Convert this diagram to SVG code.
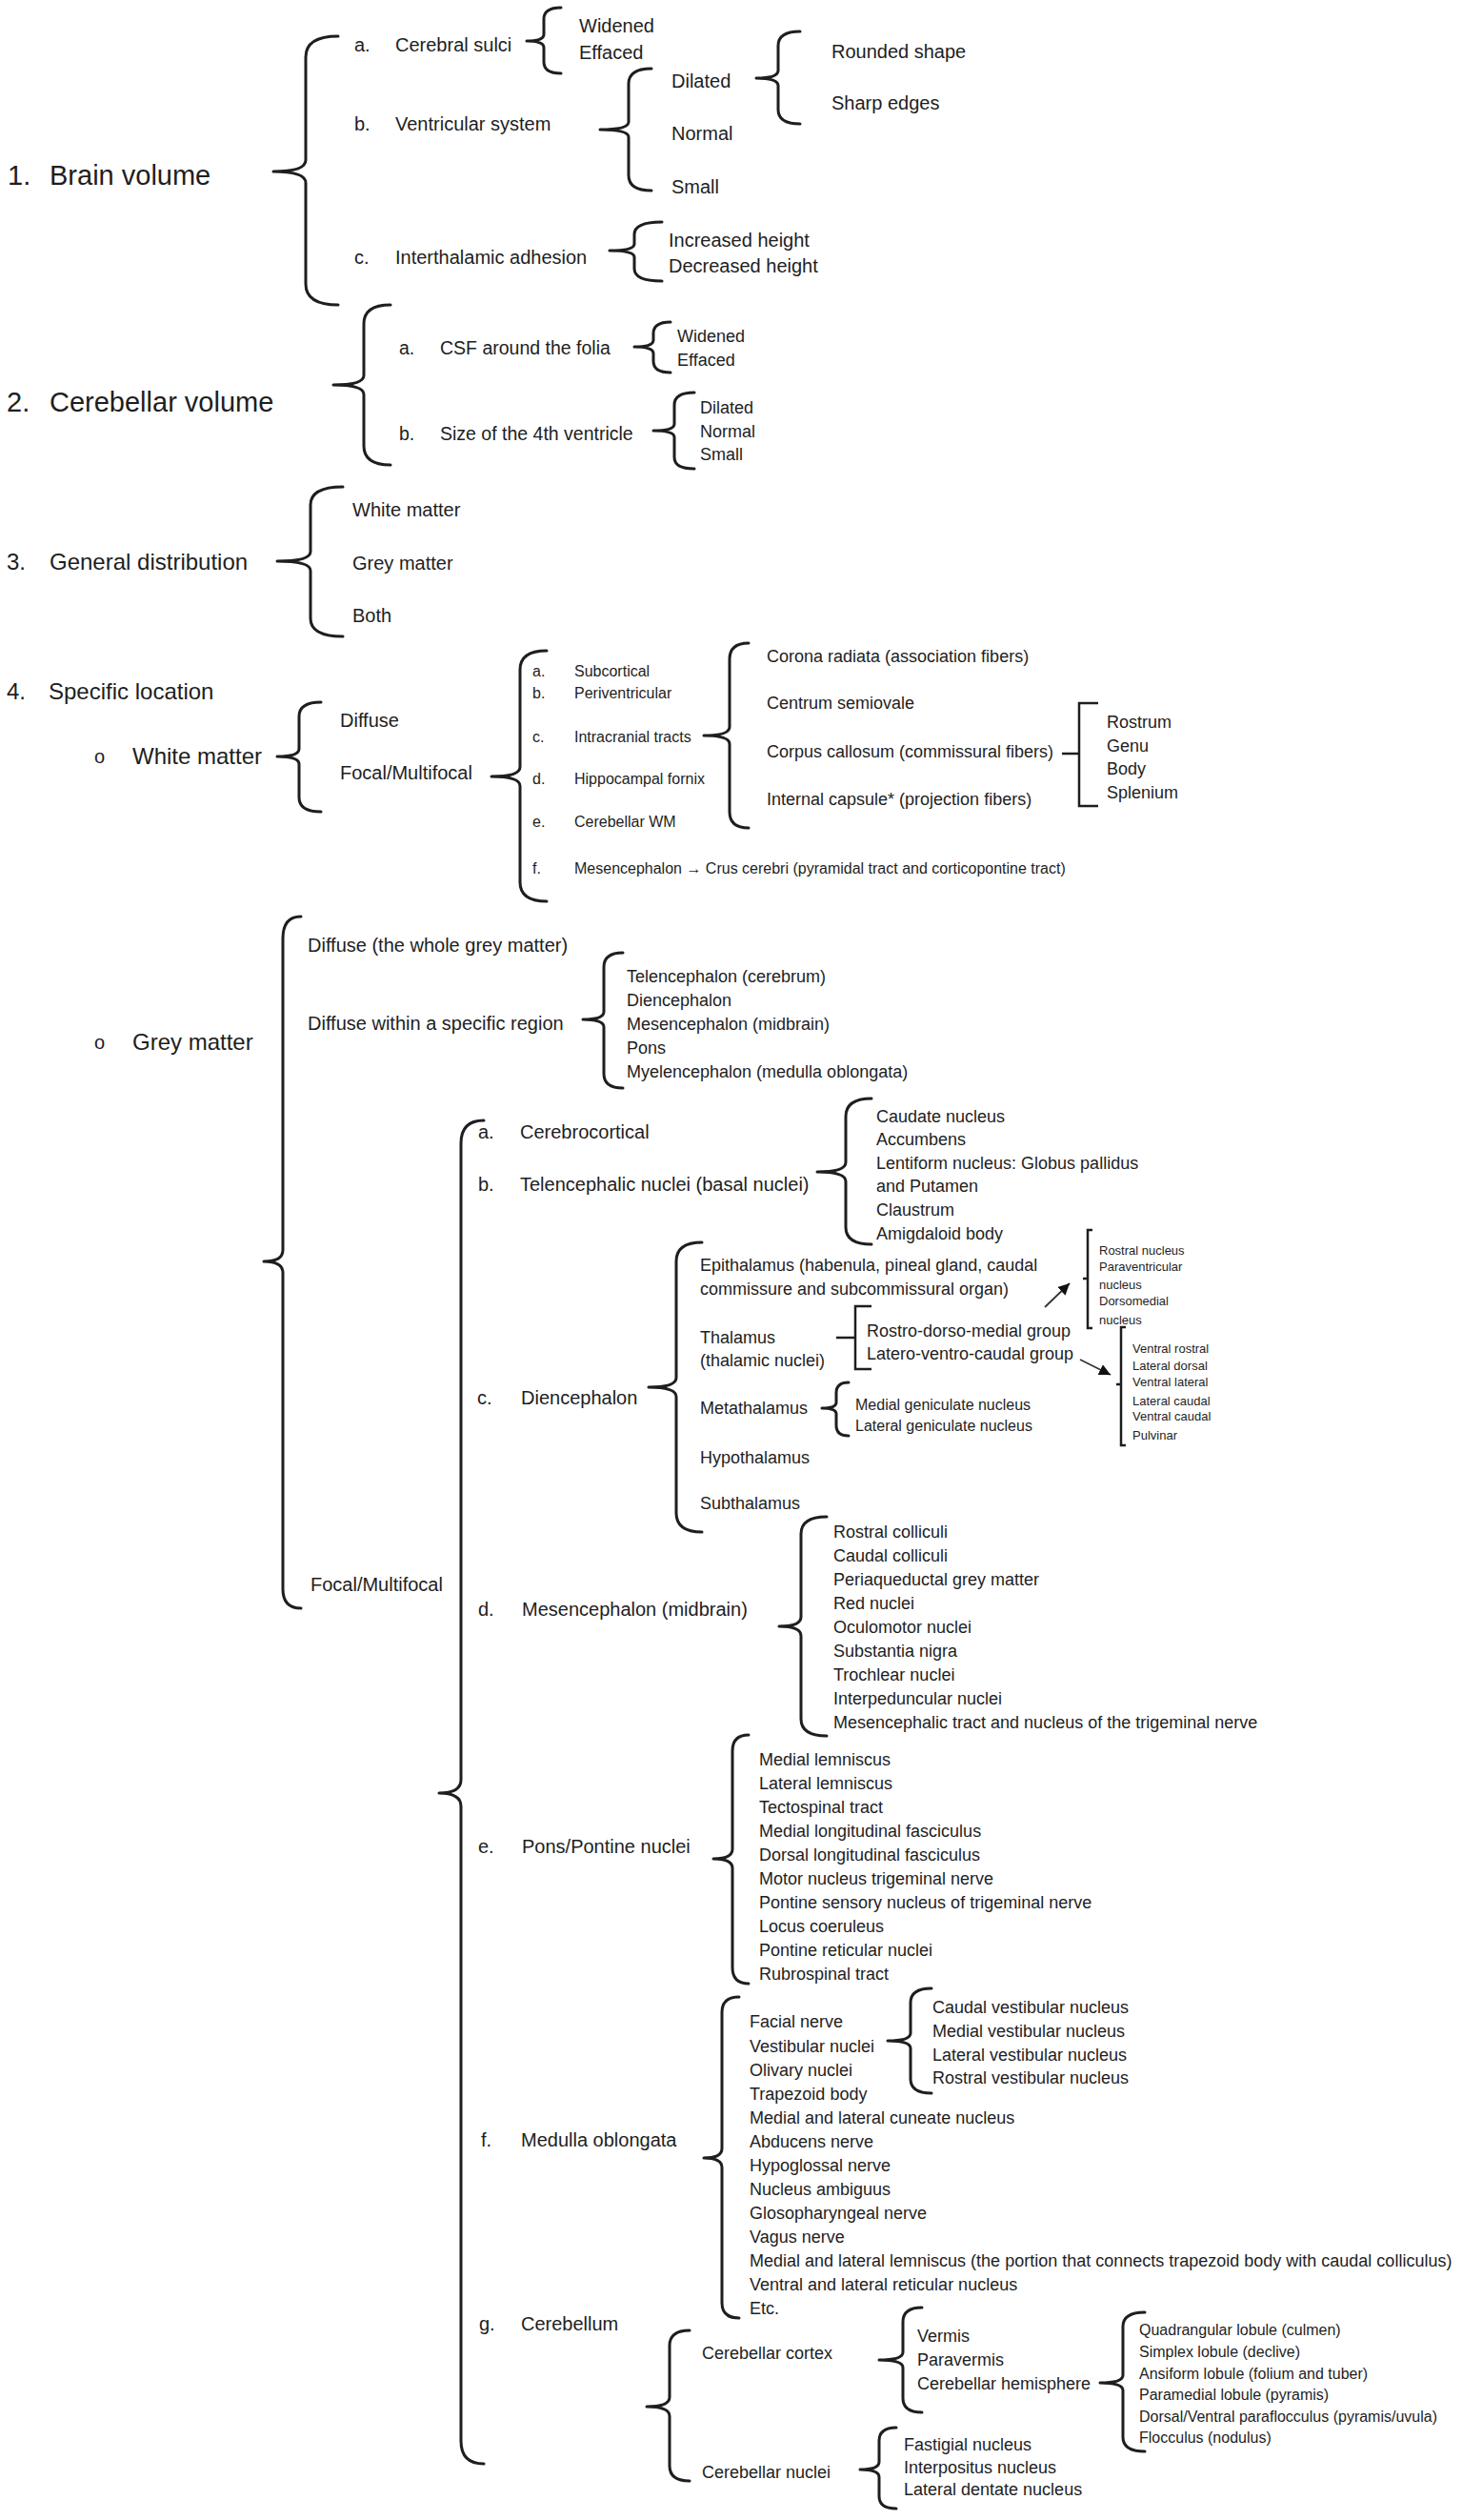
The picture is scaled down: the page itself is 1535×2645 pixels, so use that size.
<svg xmlns="http://www.w3.org/2000/svg" width="1535" height="2645" viewBox="0 0 1535 2645">
<style>
text{font-family:"Liberation Sans",Arial,sans-serif;fill:#1e1e1e;dominant-baseline:central}
.h29{font-size:29px}.h24{font-size:24px}.f20{font-size:20px}.f195{font-size:19.5px}.f18{font-size:18px}.f16{font-size:16px}.f13{font-size:13px}
.br{fill:none;stroke:#1e1e1e;stroke-width:3;stroke-linecap:round;stroke-linejoin:round}
.sq{fill:none;stroke:#1e1e1e;stroke-width:2.5;stroke-linecap:butt}
.ar{fill:none;stroke:#333;stroke-width:1.8}
</style>
<defs>
<marker id="ah" markerWidth="12" markerHeight="12" refX="10" refY="5" orient="auto" markerUnits="userSpaceOnUse" viewBox="0 0 10 10"><path d="M0,0 L10,5 L0,10 z" fill="#111"/></marker>
</defs>
<rect width="1535" height="2645" fill="#fff"/>

<g id="connectors">
<!-- Section 1 -->
<path class="br" d="M355,38 Q321,38 321,60 L321,168 Q321,180 287,180 Q321,180 321,192 L321,298 Q321,320 355,320"/>
<path class="br" d="M589,8 Q571,8 571,20 L571,36 Q571,43 553,43 Q571,43 571,50 L571,65 Q571,77 589,77"/>
<path class="br" d="M684,72 Q660,72 660,88 L660,128 Q660,136 630,136 Q660,136 660,144 L660,184 Q660,200 684,200"/>
<path class="br" d="M840,33 Q817,33 817,48 L817,74 Q817,82 794,82 Q817,82 817,90 L817,115 Q817,130 840,130"/>
<path class="br" d="M695,233 Q666,233 666,246 L666,256 Q666,263 640,263 Q666,263 666,270 L666,282 Q666,295 695,295"/>
<!-- Section 2 -->
<path class="br" d="M410,320 Q382,320 382,340 L382,394 Q382,404 350,404 Q382,404 382,414 L382,468 Q382,488 410,488"/>
<path class="br" d="M704,338 Q686,338 686,350 L686,357 Q686,364 666,364 Q686,364 686,371 L686,379 Q686,391 704,391"/>
<path class="br" d="M729,412 Q708,412 708,425 L708,445 Q708,452 686,452 Q708,452 708,459 L708,480 Q708,492 729,492"/>
<!-- Section 3 -->
<path class="br" d="M360,511 Q326,511 326,530 L326,579 Q326,589 291,589 Q326,589 326,599 L326,649 Q326,668 360,668"/>
<!-- Section 4 white matter -->
<path class="br" d="M337,737 Q314,737 314,752 L314,786 Q314,794 291,794 Q314,794 314,802 L314,837 Q314,852 337,852"/>
<path class="br" d="M574,683 Q546,683 546,703 L546,805 Q546,815 516,815 Q546,815 546,825 L546,926 Q546,946 574,946"/>
<path class="br" d="M786,675 Q766,675 766,692 L766,763 Q766,772 739,772 Q766,772 766,781 L766,852 Q766,869 786,869"/>
<path class="sq" d="M1153,738 L1133,738 L1133,846 L1153,846 M1115,791 L1133,791"/>
<!-- Grey matter -->
<path class="br" d="M316,962 Q297,962 297,985 L297,1312 Q297,1324 277,1324 Q297,1324 297,1336 L297,1668 Q297,1688 316,1688"/>
<path class="br" d="M654,1000 Q634,1000 634,1015 L634,1062 Q634,1070 612,1070 Q634,1070 634,1078 L634,1127 Q634,1142 654,1142"/>
<path class="br" d="M508,1176 Q484,1176 484,1200 L484,1868 Q484,1882 461,1882 Q484,1882 484,1896 L484,2562 Q484,2586 508,2586"/>
<path class="br" d="M915,1153 Q888,1153 888,1172 L888,1220 Q888,1230 858,1230 Q888,1230 888,1240 L888,1288 Q888,1306 915,1306"/>
<path class="br" d="M737,1304 Q710,1304 710,1324 L710,1446 Q710,1456 681,1456 Q710,1456 710,1466 L710,1588 Q710,1608 737,1608"/>
<path class="sq" d="M915,1371 L898,1371 L898,1437 L915,1437 M878,1404 L898,1404"/>
<path class="sq" d="M1147,1291 L1142,1291 L1142,1394 L1147,1394 M1137,1342 L1142,1342"/>
<path class="sq" d="M1182,1393 L1177,1393 L1177,1517 L1182,1517 M1172,1453 L1177,1453"/>
<path class="br" d="M891,1451 Q878,1451 878,1462 L878,1472 Q878,1478 863,1478 Q878,1478 878,1484 L878,1496 Q878,1507 891,1507"/>
<path class="ar" d="M1097,1372 L1123,1347" marker-end="url(#ah)"/>
<path class="ar" d="M1134,1427 L1166,1443" marker-end="url(#ah)"/>
<path class="br" d="M868,1592 Q841,1592 841,1610 L841,1697 Q841,1707 818,1707 Q841,1707 841,1717 L841,1804 Q841,1822 868,1822"/>
<path class="br" d="M786,1821 Q769,1821 769,1838 L769,1941 Q769,1951 749,1951 Q769,1951 769,1961 L769,2065 Q769,2082 786,2082"/>
<path class="br" d="M776,2096 Q758,2096 758,2112 L758,2255 Q758,2265 739,2265 Q758,2265 758,2275 L758,2417 Q758,2433 776,2433"/>
<path class="br" d="M978,2087 Q956,2087 956,2102 L956,2134 Q956,2142 932,2142 Q956,2142 956,2150 L956,2182 Q956,2197 978,2197"/>
<path class="br" d="M724,2446 Q703,2446 703,2462 L703,2516 Q703,2526 679,2526 Q703,2526 703,2536 L703,2588 Q703,2604 724,2604"/>
<path class="br" d="M968,2422 Q948,2422 948,2437 L948,2469 Q948,2477 923,2477 Q948,2477 948,2485 L948,2517 Q948,2532 968,2532"/>
<path class="br" d="M1202,2427 Q1179,2427 1179,2442 L1179,2493 Q1179,2501 1155,2501 Q1179,2501 1179,2509 L1179,2558 Q1179,2573 1202,2573"/>
<path class="br" d="M941,2548 Q923,2548 923,2562 L923,2584 Q923,2592 903,2592 Q923,2592 923,2600 L923,2620 Q923,2633 941,2633"/>
</g>

<g id="n-brain-volume"><text class="h29" x="8" y="184">1.</text><text class="h29" x="52" y="184">Brain volume</text></g>
<g id="n-cerebral-sulci"><text class="f20" x="372" y="47">a.</text><text class="f20" x="415" y="47">Cerebral sulci</text></g>
<g id="n-sulci-values"><text class="f20" x="608" y="27">Widened</text><text class="f20" x="608" y="55">Effaced</text></g>
<g id="n-ventricular"><text class="f20" x="372" y="130">b.</text><text class="f20" x="415" y="130">Ventricular system</text></g>
<g id="n-dilated"><text class="f20" x="705" y="85">Dilated</text></g>
<g id="n-normal"><text class="f20" x="705" y="140">Normal</text></g>
<g id="n-small"><text class="f20" x="705" y="196">Small</text></g>
<g id="n-rounded"><text class="f20" x="873" y="54">Rounded shape</text></g>
<g id="n-sharp"><text class="f20" x="873" y="108">Sharp edges</text></g>
<g id="n-interthalamic"><text class="f20" x="372" y="270">c.</text><text class="f20" x="415" y="270">Interthalamic adhesion</text></g>
<g id="n-height"><text class="f20" x="702" y="252">Increased height</text><text class="f20" x="702" y="279">Decreased height</text></g>

<g id="n-cerebellar-volume"><text class="h29" x="7" y="422">2.</text><text class="h29" x="52" y="422">Cerebellar volume</text></g>
<g id="n-csf"><text class="f195" x="419" y="365">a.</text><text class="f195" x="462" y="365">CSF around the folia</text></g>
<g id="n-csf-values"><text class="f18" x="711" y="353">Widened</text><text class="f18" x="711" y="378">Effaced</text></g>
<g id="n-4th"><text class="f195" x="419" y="455">b.</text><text class="f195" x="462" y="455">Size of the 4th ventricle</text></g>
<g id="n-4th-values"><text class="f18" x="735" y="428">Dilated</text><text class="f18" x="735" y="453">Normal</text><text class="f18" x="735" y="477">Small</text></g>

<g id="n-general"><text class="h24" x="7" y="589">3.</text><text class="h24" x="52" y="589">General distribution</text></g>
<g id="n-gd-values"><text class="f20" x="370" y="535">White matter</text><text class="f20" x="370" y="591">Grey matter</text><text class="f20" x="370" y="646">Both</text></g>

<g id="n-specific"><text class="h24" x="7" y="725">4.</text><text class="h24" x="51" y="725">Specific location</text></g>
<g id="n-white-matter"><text class="f20" x="99" y="794">o</text><text class="h24" x="139" y="793">White matter</text></g>
<g id="n-wm-diffuse"><text class="f20" x="357" y="756">Diffuse</text></g>
<g id="n-wm-focal"><text class="f20" x="357" y="811">Focal/Multifocal</text></g>
<g id="n-wm-locations">
<text class="f16" x="559" y="704">a.</text><text class="f16" x="603" y="704">Subcortical</text>
<text class="f16" x="559" y="727">b.</text><text class="f16" x="603" y="727">Periventricular</text>
<text class="f16" x="559" y="773">c.</text><text class="f16" x="603" y="773">Intracranial tracts</text>
<text class="f16" x="559" y="817">d.</text><text class="f16" x="603" y="817">Hippocampal fornix</text>
<text class="f16" x="559" y="862">e.</text><text class="f16" x="603" y="862">Cerebellar WM</text>
<text class="f16" x="559" y="911">f.</text><text class="f16" x="603" y="911">Mesencephalon → Crus cerebri (pyramidal tract and corticopontine tract)</text>
</g>
<g id="n-tracts">
<text class="f18" x="805" y="689">Corona radiata (association fibers)</text>
<text class="f18" x="805" y="738">Centrum semiovale</text>
<text class="f18" x="805" y="789">Corpus callosum (commissural fibers)</text>
<text class="f18" x="805" y="839">Internal capsule* (projection fibers)</text>
</g>
<g id="n-cc-parts">
<text class="f18" x="1162" y="758">Rostrum</text><text class="f18" x="1162" y="783">Genu</text><text class="f18" x="1162" y="807">Body</text><text class="f18" x="1162" y="832">Splenium</text>
</g>

<g id="n-grey-matter"><text class="f20" x="99" y="1094">o</text><text class="h24" x="139" y="1093">Grey matter</text></g>
<g id="n-gm-diffuse"><text class="f20" x="323" y="992">Diffuse (the whole grey matter)</text></g>
<g id="n-gm-diffuse-region"><text class="f20" x="323" y="1074">Diffuse within a specific region</text></g>
<g id="n-regions">
<text class="f18" x="658" y="1025">Telencephalon (cerebrum)</text><text class="f18" x="658" y="1050">Diencephalon</text><text class="f18" x="658" y="1075">Mesencephalon (midbrain)</text><text class="f18" x="658" y="1100">Pons</text><text class="f18" x="658" y="1125">Myelencephalon (medulla oblongata)</text>
</g>
<g id="n-gm-focal"><text class="f20" x="326" y="1663">Focal/Multifocal</text></g>
<g id="n-cerebrocortical"><text class="f20" x="502" y="1188">a.</text><text class="f20" x="546" y="1188">Cerebrocortical</text></g>
<g id="n-telencephalic"><text class="f20" x="502" y="1243">b.</text><text class="f20" x="546" y="1243">Telencephalic nuclei (basal nuclei)</text></g>
<g id="n-basal">
<text class="f18" x="920" y="1172">Caudate nucleus</text><text class="f18" x="920" y="1196">Accumbens</text><text class="f18" x="920" y="1221">Lentiform nucleus: Globus pallidus</text><text class="f18" x="920" y="1245">and Putamen</text><text class="f18" x="920" y="1270">Claustrum</text><text class="f18" x="920" y="1295">Amigdaloid body</text>
</g>
<g id="n-diencephalon"><text class="f20" x="501" y="1467">c.</text><text class="f20" x="547" y="1467">Diencephalon</text></g>
<g id="n-epithalamus"><text class="f18" x="735" y="1328">Epithalamus (habenula, pineal gland, caudal</text><text class="f18" x="735" y="1353">commissure and subcommissural organ)</text></g>
<g id="n-thalamus"><text class="f18" x="735" y="1404">Thalamus</text><text class="f18" x="735" y="1428">(thalamic nuclei)</text></g>
<g id="n-thal-groups"><text class="f18" x="910" y="1397">Rostro-dorso-medial group</text><text class="f18" x="910" y="1421">Latero-ventro-caudal group</text></g>
<g id="n-rdm-nuclei">
<text class="f13" x="1154" y="1312">Rostral nucleus</text><text class="f13" x="1154" y="1329">Paraventricular</text><text class="f13" x="1154" y="1348">nucleus</text><text class="f13" x="1154" y="1365">Dorsomedial</text><text class="f13" x="1154" y="1385">nucleus</text>
</g>
<g id="n-lvc-nuclei">
<text class="f13" x="1189" y="1415">Ventral rostral</text><text class="f13" x="1189" y="1433">Lateral dorsal</text><text class="f13" x="1189" y="1450">Ventral lateral</text><text class="f13" x="1189" y="1470">Lateral caudal</text><text class="f13" x="1189" y="1486">Ventral caudal</text><text class="f13" x="1189" y="1506">Pulvinar</text>
</g>
<g id="n-metathalamus"><text class="f18" x="735" y="1478">Metathalamus</text></g>
<g id="n-geniculate"><text class="f16" x="898" y="1474">Medial geniculate nucleus</text><text class="f16" x="898" y="1496">Lateral geniculate nucleus</text></g>
<g id="n-hypothalamus"><text class="f18" x="735" y="1530">Hypothalamus</text></g>
<g id="n-subthalamus"><text class="f18" x="735" y="1578">Subthalamus</text></g>
<g id="n-mesencephalon"><text class="f20" x="502" y="1689">d.</text><text class="f20" x="548" y="1689">Mesencephalon (midbrain)</text></g>
<g id="n-mes-items">
<text class="f18" x="875" y="1608">Rostral colliculi</text><text class="f18" x="875" y="1633">Caudal colliculi</text><text class="f18" x="875" y="1658">Periaqueductal grey matter</text><text class="f18" x="875" y="1683">Red nuclei</text><text class="f18" x="875" y="1708">Oculomotor nuclei</text><text class="f18" x="875" y="1733">Substantia nigra</text><text class="f18" x="875" y="1758">Trochlear nuclei</text><text class="f18" x="875" y="1783">Interpeduncular nuclei</text><text class="f18" x="875" y="1808">Mesencephalic tract and nucleus of the trigeminal nerve</text>
</g>
<g id="n-pons"><text class="f20" x="502" y="1938">e.</text><text class="f20" x="548" y="1938">Pons/Pontine nuclei</text></g>
<g id="n-pons-items">
<text class="f18" x="797" y="1847">Medial lemniscus</text><text class="f18" x="797" y="1872">Lateral lemniscus</text><text class="f18" x="797" y="1897">Tectospinal tract</text><text class="f18" x="797" y="1922">Medial longitudinal fasciculus</text><text class="f18" x="797" y="1947">Dorsal longitudinal fasciculus</text><text class="f18" x="797" y="1972">Motor nucleus trigeminal nerve</text><text class="f18" x="797" y="1997">Pontine sensory nucleus of trigeminal nerve</text><text class="f18" x="797" y="2022">Locus coeruleus</text><text class="f18" x="797" y="2047">Pontine reticular nuclei</text><text class="f18" x="797" y="2072">Rubrospinal tract</text>
</g>
<g id="n-medulla"><text class="f20" x="505" y="2246">f.</text><text class="f20" x="547" y="2246">Medulla oblongata</text></g>
<g id="n-medulla-items">
<text class="f18" x="787" y="2122">Facial nerve</text><text class="f18" x="787" y="2148">Vestibular nuclei</text><text class="f18" x="787" y="2173">Olivary nuclei</text><text class="f18" x="787" y="2198">Trapezoid body</text><text class="f18" x="787" y="2223">Medial and lateral cuneate nucleus</text><text class="f18" x="787" y="2248">Abducens nerve</text><text class="f18" x="787" y="2273">Hypoglossal nerve</text><text class="f18" x="787" y="2298">Nucleus ambiguus</text><text class="f18" x="787" y="2323">Glosopharyngeal nerve</text><text class="f18" x="787" y="2348">Vagus nerve</text><text class="f18" x="787" y="2373">Medial and lateral lemniscus (the portion that connects trapezoid body with caudal colliculus)</text><text class="f18" x="787" y="2398">Ventral and lateral reticular nucleus</text><text class="f18" x="787" y="2423">Etc.</text>
</g>
<g id="n-vestibular">
<text class="f18" x="979" y="2107">Caudal vestibular nucleus</text><text class="f18" x="979" y="2132">Medial vestibular nucleus</text><text class="f18" x="979" y="2157">Lateral vestibular nucleus</text><text class="f18" x="979" y="2181">Rostral vestibular nucleus</text>
</g>
<g id="n-cerebellum"><text class="f20" x="503" y="2439">g.</text><text class="f20" x="547" y="2439">Cerebellum</text></g>
<g id="n-cb-cortex"><text class="f18" x="737" y="2470">Cerebellar cortex</text></g>
<g id="n-cb-nuclei"><text class="f18" x="737" y="2595">Cerebellar nuclei</text></g>
<g id="n-cortex-parts"><text class="f18" x="963" y="2452">Vermis</text><text class="f18" x="963" y="2477">Paravermis</text><text class="f18" x="963" y="2502">Cerebellar hemisphere</text></g>
<g id="n-lobules">
<text class="f16" x="1196" y="2445">Quadrangular lobule (culmen)</text><text class="f16" x="1196" y="2468">Simplex lobule (declive)</text><text class="f16" x="1196" y="2491">Ansiform lobule (folium and tuber)</text><text class="f16" x="1196" y="2513">Paramedial lobule (pyramis)</text><text class="f16" x="1196" y="2536">Dorsal/Ventral paraflocculus (pyramis/uvula)</text><text class="f16" x="1196" y="2558">Flocculus (nodulus)</text>
</g>
<g id="n-nuclei-list"><text class="f18" x="949" y="2566">Fastigial nucleus</text><text class="f18" x="949" y="2590">Interpositus nucleus</text><text class="f18" x="949" y="2613">Lateral dentate nucleus</text></g>
</svg>
